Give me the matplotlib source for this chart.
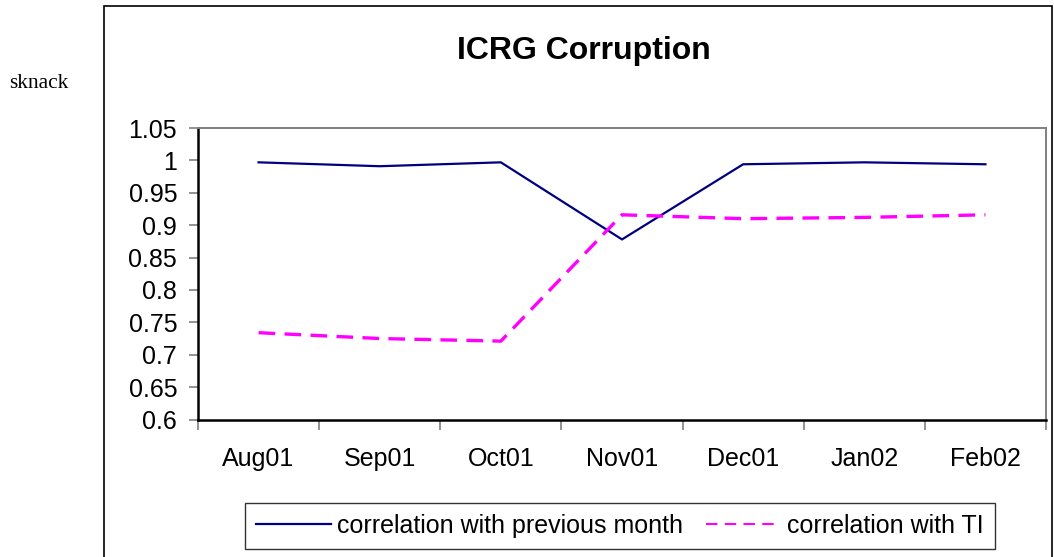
import matplotlib
matplotlib.use("Agg")
import matplotlib.pyplot as plt
from matplotlib.patches import Rectangle
from matplotlib.lines import Line2D

plt.rcParams['font.family'] = ['Liberation Sans', 'DejaVu Sans']

months = ["Aug01", "Sep01", "Oct01", "Nov01", "Dec01", "Jan02", "Feb02"]
prev_month = [0.997, 0.991, 0.997, 0.878, 0.994, 0.997, 0.994]
with_ti = [0.734, 0.725, 0.721, 0.916, 0.910, 0.912, 0.916]
yticks = [0.6, 0.65, 0.7, 0.75, 0.8, 0.85, 0.9, 0.95, 1, 1.05]
ytick_labels = ["0.6", "0.65", "0.7", "0.75", "0.8", "0.85", "0.9", "0.95", "1", "1.05"]

W, H = 1054, 557
fig = plt.figure(figsize=(W / 100, H / 100), dpi=100)

# outer chart frame (runs off the bottom of the picture)
fig.patches.append(Rectangle((104 / W, -0.05), (1052 - 104) / W, 1.05 - 6 / H,
                             transform=fig.transFigure, fill=False,
                             edgecolor="black", linewidth=1.2, clip_on=False))

ax = fig.add_axes([198 / W, 1 - 419.5 / H, (1046 - 198) / W, (419.5 - 128) / H])

x = list(range(len(months)))
ax.plot(x, prev_month, color="#000080", linewidth=1.6, solid_joinstyle="miter")
ax.plot(x, with_ti, color="#ff00ff", linewidth=2.4, dashes=(5, 2.8))

ax.set_xlim(-0.5, len(months) - 0.5)
ax.set_ylim(0.6, 1.05)
ax.set_yticks(yticks)
ax.set_yticklabels(ytick_labels)
ax.set_xticks([i - 0.5 for i in range(len(months) + 1)])
ax.set_xticklabels([])
ax.set_xticks(x, minor=True)
ax.set_xticklabels(months, minor=True)

ax.tick_params(axis="y", direction="out", length=6.5, width=1.2, color="#808080",
               labelsize=18, pad=8.5)
ax.tick_params(axis="x", which="major", direction="out", length=7, width=1.2,
               color="#808080")
ax.tick_params(axis="x", which="minor", length=0, labelsize=18, pad=20)

for s in ["left", "bottom"]:
    ax.spines[s].set_color("black")
    ax.spines[s].set_linewidth(1.8)
for s in ["top", "right"]:
    ax.spines[s].set_color("#808080")
    ax.spines[s].set_linewidth(1.4)

fig.text(584 / W, 1 - 51 / H, "ICRG Corruption", ha="center", va="center",
         fontsize=23, fontweight="bold")
fig.text(9 / W, 1 - 83 / H, "sknack", ha="left", va="center",
         fontsize=15.4, family="Liberation Serif")

handles = [Line2D([], [], color="#000080", linewidth=1.6),
           Line2D([], [], color="#ff00ff", linewidth=1.5, dashes=(5.5, 3.5))]
leg = fig.legend(handles, ["correlation with previous month", "correlation with TI"],
                 loc="center", bbox_to_anchor=(620 / W, 1 - 526 / H), ncol=2,
                 fontsize=18, frameon=True, fancybox=False, handlelength=3.0,
                 handletextpad=0.24, columnspacing=0.9, borderpad=0.45,
                 borderaxespad=0)
leg.get_frame().set_edgecolor("black")
leg.get_frame().set_linewidth(1.0)

fig.savefig("out.png", dpi=100)
